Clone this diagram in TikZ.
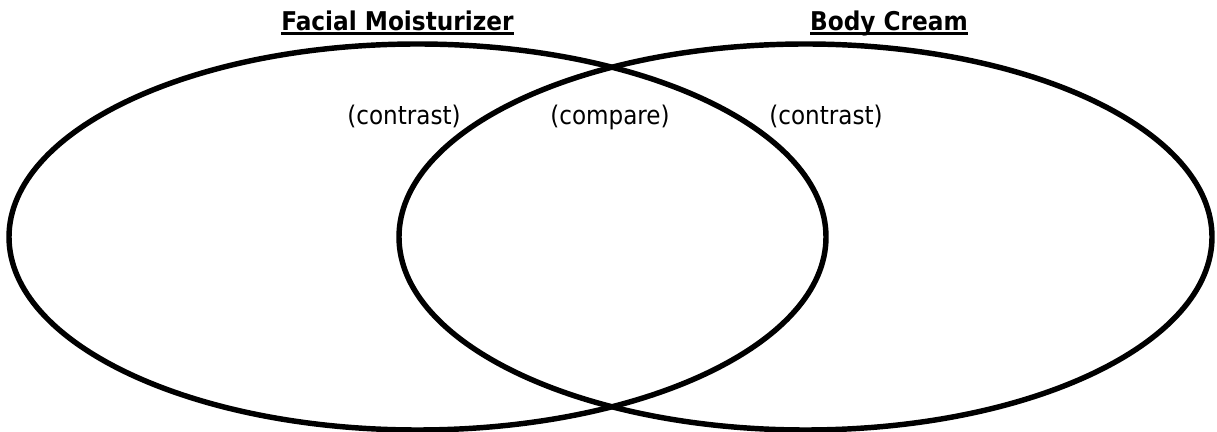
\documentclass[tikz,border=0pt]{standalone}
\usepackage{fontspec}
\setmainfont{DejaVu Sans Condensed}
\usepackage{tikz}
\newcommand\titleline[1]{\setbox0\hbox{#1}%
    \rlap{\raisebox{-2.4pt}{\rule{\wd0}{1.4pt}}}\box0}
\tikzset{%
    set/.style={line width=3.1pt},
    title/.style={font=\fontsize{14.7}{17}\selectfont\bfseries, inner sep=0pt,
    	anchor=base},
    part/.style={font=\fontsize{14.6}{17}\selectfont, inner sep=0pt,
    	anchor=base}
}

\begin{document}
\begin{tikzpicture}[x=0.02cm, y=0.02cm]
	\useasboundingbox (0,0) rectangle (1217,432);
	\draw [set] (417.5,195) ellipse [x radius=408.5, y radius=193];
	\draw [set] (805.5,195) ellipse [x radius=406.5, y radius=193];
	\node [title] (facial) at (397.5,401.5) {\titleline{Facial Moisturizer}};
	\node [title] (body) at (889,401.5) {\titleline{Body Cream}};
	\node [part] (left) at (404,307.5) {(contrast)};
	\node [part] (both) at (610,307.5) {(compare)};
	\node [part] (right) at (826,307.5) {(contrast)};
\end{tikzpicture}
\end{document}
